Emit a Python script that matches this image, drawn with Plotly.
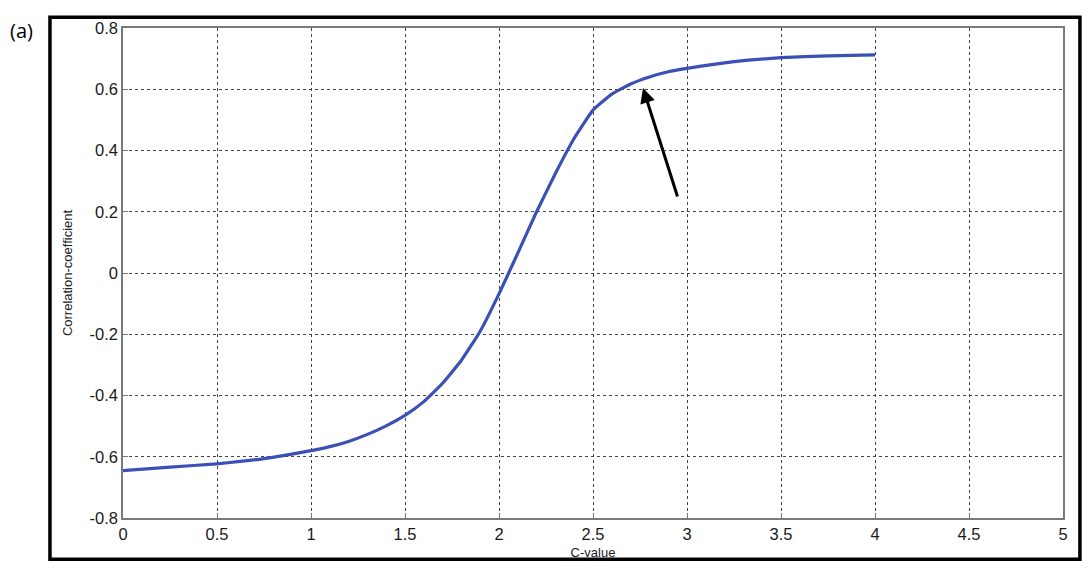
import plotly.graph_objects as go

c_value = [0, 0.25, 0.5, 0.75, 1.0, 1.1, 1.2, 1.3, 1.4, 1.5, 1.6, 1.7, 1.8, 1.9, 2.0, 2.1, 2.2, 2.3, 2.4, 2.5,
           2.6, 2.7, 2.8, 2.9, 3.0, 3.25, 3.5, 3.75, 4.0]
corr_coef = [-0.645, -0.634, -0.623, -0.606, -0.58, -0.567, -0.55, -0.527, -0.499, -0.465, -0.42, -0.36, -0.285,
             -0.19, -0.068, 0.065, 0.2, 0.325, 0.44, 0.532, 0.584, 0.617, 0.64, 0.657, 0.668, 0.69, 0.703, 0.709,
             0.712]

x_ticks = [0, 0.5, 1, 1.5, 2, 2.5, 3, 3.5, 4, 4.5, 5]
x_tick_labels = ["0", "0.5", "1", "1.5", "2", "2.5", "3", "3.5", "4", "4.5", "5"]
y_ticks = [-0.8, -0.6, -0.4, -0.2, 0, 0.2, 0.4, 0.6, 0.8]
y_tick_labels = ["-0.8", "-0.6", "-0.4", "-0.2", "0", "0.2", "0.4", "0.6", "0.8"]

arrow_tail = (2.952, 0.245)
arrow_tip = (2.766, 0.604)

fig = go.Figure()
fig.add_trace(go.Scatter(
    x=c_value, y=corr_coef, mode="lines",
    line=dict(color="#3a50b4", width=3.2, shape="spline", smoothing=0.4),
    showlegend=False,
))

axis_common = dict(
    showline=True, mirror=True, linecolor="#7a7a7a", linewidth=1.5,
    ticks="inside", ticklen=5, tickcolor="#7a7a7a",
    showgrid=True, gridcolor="#444444", griddash="dot", gridwidth=1,
    zeroline=False,
    tickfont=dict(family="Liberation Sans, Arial", size=16.5, color="#1a1a1a"),
)

fig.update_xaxes(
    range=[0, 5], tickvals=x_ticks, ticktext=x_tick_labels,
    title=dict(text="C-value", font=dict(family="Liberation Sans, Arial", size=13, color="#222"), standoff=6),
    **axis_common,
)
fig.update_yaxes(
    range=[-0.8, 0.8], tickvals=y_ticks, ticktext=y_tick_labels,
    title=dict(text="Correlation-coefficient", font=dict(family="Liberation Sans, Arial", size=13, color="#222"), standoff=14),
    **axis_common,
)

fig.add_annotation(
    x=arrow_tip[0], y=arrow_tip[1], ax=arrow_tail[0], ay=arrow_tail[1],
    xref="x", yref="y", axref="x", ayref="y",
    showarrow=True, arrowhead=2, arrowsize=1, arrowwidth=3, arrowcolor="black", text="",
)

# outer frame
fig.add_shape(type="rect", xref="paper", yref="paper",
              x0=-0.0777, x1=1.018, y0=-0.084, y1=1.022,
              line=dict(color="black", width=3.5), fillcolor="rgba(0,0,0,0)", layer="above")

fig.add_annotation(
    x=-0.108, y=0.994, xref="paper", yref="paper", text="(a)", showarrow=False,
    xanchor="center", yanchor="middle",
    font=dict(family="Open Sans, Liberation Sans", size=20, color="black"),
)

fig.update_layout(
    width=1082, height=562,
    margin=dict(l=115, r=27, t=11, b=52),
    plot_bgcolor="white", paper_bgcolor="white",
)

fig.write_html("out.html")
